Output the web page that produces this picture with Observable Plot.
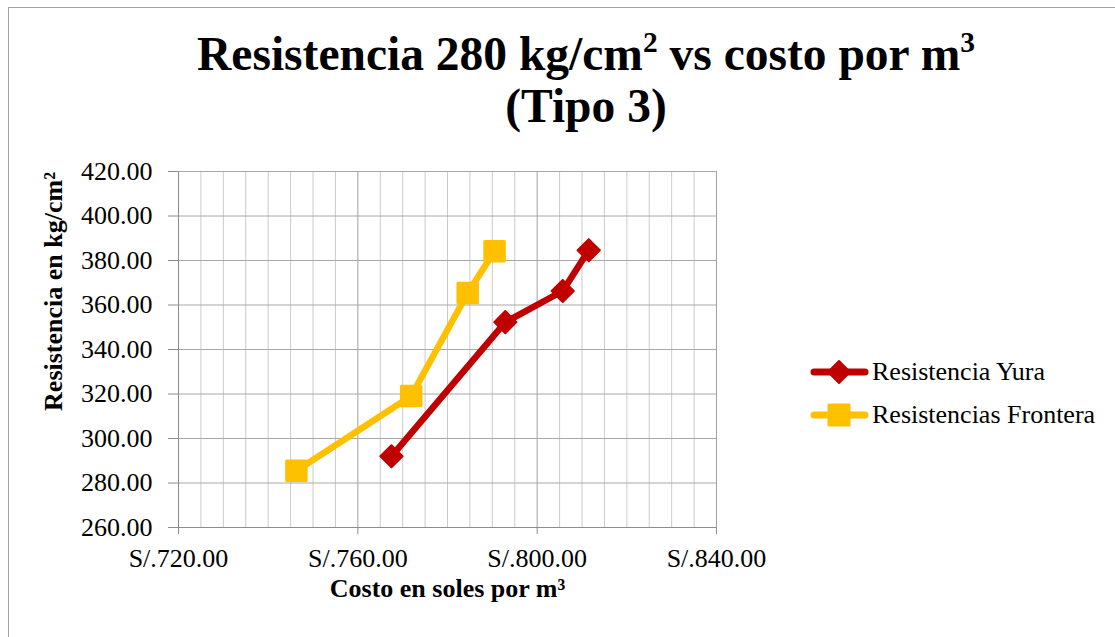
<!DOCTYPE html>
<html>
<head>
<meta charset="utf-8">
<script src="https://cdn.jsdelivr.net/npm/d3@7"></script>
<script src="https://cdn.jsdelivr.net/npm/@observablehq/plot@0.6"></script>
<style>
  html, body { margin: 0; padding: 0; background: #fff; }
  #wrap { position: relative; width: 1115px; height: 637px; overflow: hidden; font-family: "Liberation Serif", "Times New Roman", serif; }
  #frame { position: absolute; left: 8px; top: 7px; width: 1200px; height: 700px; border-left: 1px solid #a3a3a3; border-top: 1px solid #a3a3a3; }
  #title { position: absolute; left: 186px; top: 28px; width: 800px; text-align: center; font-weight: bold; font-size: 47.5px; line-height: 52px; color: #000; }
  #title sup { font-size: 0.62em; line-height: 0; vertical-align: baseline; position: relative; top: -0.62em; }
  #chart { position: absolute; left: 0; top: 140px; }
  .leg { position: absolute; left: 810px; height: 30px; display: flex; align-items: center; }
  .leg span { font-size: 26px; line-height: 30px; color: #000; margin-left: 2px; white-space: nowrap; }
</style>
</head>
<body>
<div id="wrap">
  <div id="frame"></div>
  <div id="title">Resistencia 280 kg/cm<sup>2</sup> vs costo por m<sup>3</sup><br>(Tipo 3)</div>
  <div id="chart"></div>
  <div id="legend"></div>
</div>
<script>
// ---- data ----
const seriesNames = ["Resistencia Yura", "Resistencias Frontera"];
const seriesColors = ["#C00000", "#FFC000"];
const costYura = [767.5, 792.9, 805.7, 811.5];
const resYura = [292.0, 352.3, 366.3, 384.6];
const costFrontera = [746.3, 771.9, 784.5, 790.5];
const resFrontera = [285.5, 319.1, 365.4, 384.2];
const xTicks = [720, 760, 800, 840];
const xMinorTicks = [725, 730, 735, 740, 745, 750, 755, 765, 770, 775, 780, 785, 790, 795, 805, 810, 815, 820, 825, 830, 835];
const yTicks = [260, 280, 300, 320, 340, 360, 380, 400, 420];
const xTitle = "Costo en soles por m³";
const yTitle = "Resistencia en kg/cm²";

const yura = costYura.map((c, i) => ({cost: c, res: resYura[i]}));
const frontera = costFrontera.map((c, i) => ({cost: c, res: resFrontera[i]}));

const axisGrey = "#8c8c8c";

const plot = Plot.plot({
  width: 1115,
  height: 497,
  marginTop: 31,
  marginBottom: 110,
  marginLeft: 178,
  marginRight: 399,
  style: { fontFamily: "'Liberation Serif', 'Times New Roman', serif", fontSize: "26px", background: "transparent", color: "#000" },
  x: { domain: [720, 840] },
  y: { domain: [260, 420] },
  marks: [
    Plot.gridX(xMinorTicks, { stroke: "#cbcbcb", strokeOpacity: 1, strokeWidth: 1 }),
    Plot.gridX(xTicks, { stroke: "#a0a0a0", strokeOpacity: 1, strokeWidth: 1 }),
    Plot.gridY(yTicks, { stroke: "#a8a8a8", strokeOpacity: 1, strokeWidth: 1 }),
    Plot.ruleX([720], { stroke: axisGrey, strokeWidth: 1 }),
    Plot.ruleY([260], { stroke: axisGrey, strokeWidth: 1 }),
    Plot.axisX(xTicks, { tickSize: 7, tickPadding: 14, stroke: axisGrey, fill: "#000", tickFormat: d => "S/." + d.toFixed(2), label: null }),
    Plot.axisY(yTicks, { tickSize: 10, tickPadding: 16, stroke: axisGrey, fill: "#000", tickFormat: d => d.toFixed(2), label: null }),
    Plot.text([xTitle], { frameAnchor: "bottom", dy: 69, lineAnchor: "bottom", text: d => d, fontWeight: "bold", fontSize: 26, fill: "#000" }),
    Plot.text([yTitle], { frameAnchor: "top-left", dx: -125, dy: 120, rotate: -90, textAnchor: "middle", lineAnchor: "middle", text: d => d, fontWeight: "bold", fontSize: 26, fill: "#000" }),
    Plot.line(yura, { x: "cost", y: "res", stroke: seriesColors[0], strokeWidth: 6.5, strokeLinejoin: "round", strokeLinecap: "round" }),
    Plot.dot(yura, { x: "cost", y: "res", symbol: "diamond2", r: 10, fill: seriesColors[0], stroke: seriesColors[0], strokeWidth: 2, strokeLinejoin: "round" }),
    Plot.line(frontera, { x: "cost", y: "res", stroke: seriesColors[1], strokeWidth: 6.5, strokeLinejoin: "round", strokeLinecap: "round" }),
    Plot.dot(frontera, { x: "cost", y: "res", symbol: "square", r: 11, fill: seriesColors[1], stroke: seriesColors[1], strokeWidth: 3, strokeLinejoin: "round" })
  ]
});
document.getElementById("chart").appendChild(plot);

// ---- legend ----
const legend = document.getElementById("legend");
const legTops = [357, 400];
seriesNames.forEach((name, i) => {
  const row = document.createElement("div");
  row.className = "leg";
  row.style.top = legTops[i] + "px";
  const c = seriesColors[i];
  const marker = i === 0
    ? `<path d="M29,4 L40,15 L29,26 L18,15 Z" fill="${c}" stroke="${c}" stroke-width="2" stroke-linejoin="round"/>`
    : `<rect x="19" y="5" width="20" height="20" fill="${c}" stroke="${c}" stroke-width="3" stroke-linejoin="round"/>`;
  row.innerHTML = `<svg width="60" height="30"><line x1="4" y1="15" x2="55" y2="15" stroke="${c}" stroke-width="7" stroke-linecap="round"/>${marker}</svg><span>${name}</span>`;
  legend.appendChild(row);
});
</script>
</body>
</html>
